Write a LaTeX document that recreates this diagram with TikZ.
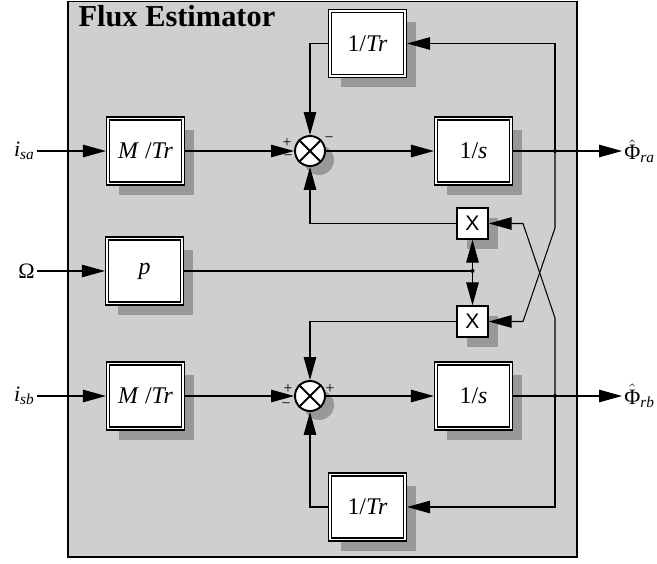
\documentclass[tikz,border=0pt]{standalone}
\usepackage{fontspec}
\setmainfont{Liberation Serif}
\newfontfamily\xfont{Liberation Sans}
\usepackage{tikz}
\usetikzlibrary{arrows.meta, positioning, shadows}

\definecolor{panelgray}{RGB}{207,207,207}
\definecolor{shadowgray}{RGB}{152,152,152}

\begin{document}
\begin{tikzpicture}[
    >={Triangle[length=0.46cm, width=0.25cm]},
    line width=0.6pt,
    block/.style={draw, double, double distance=0.8pt, line width=0.8pt, fill=white,
        minimum width=1.5cm, minimum height=1.3cm, outer sep=1.2pt,
        font=\fontsize{13.6}{15}\selectfont,
        drop shadow={shadow xshift=0.22cm, shadow yshift=-0.22cm, fill=shadowgray, opacity=1}},
    mult/.style={draw, line width=0.8pt, fill=white, minimum size=0.62cm, inner sep=0pt,
        font=\xfont\fontsize{12}{14}\selectfont,
        drop shadow={shadow xshift=0.2cm, shadow yshift=-0.2cm, fill=shadowgray, opacity=1}},
    sumnode/.style={circle, draw, line width=1.1pt, fill=white, minimum size=0.6cm, inner sep=0pt,
        drop shadow={shadow xshift=0.18cm, shadow yshift=-0.18cm, fill=shadowgray, opacity=1}},
    sgn/.style={inner sep=0pt, font=\fontsize{9}{10}\selectfont},
    io/.style={inner sep=1pt, font=\fontsize{12.5}{14}\selectfont},
]
    \useasboundingbox (0, 0) rectangle (13.14, -11.26);
    \draw[fill=panelgray, line width=1.1pt] (1.36, -0.03) rectangle (11.54, -11.14);
    \node[anchor=base west, inner sep=0pt, font=\fontsize{17.3}{20}\selectfont\bfseries] (title) at (1.56, -0.54) {Flux Estimator};

    % gain and integrator blocks
    \node[block] (mtra) at (2.91, -3.02) {\textit{M} /\textit{Tr}};
    \node[block] (pgain) at (2.89, -5.42) {\textit{p}};
    \node[block] (mtrb) at (2.91, -7.92) {\textit{M} /\textit{Tr}};
    \node[block] (tra) at (7.35, -0.87) {1/\textit{Tr}};
    \node[block] (trb) at (7.35, -10.14) {1/\textit{Tr}};
    \node[block] (inta) at (9.47, -3.02) {1/\textit{s}};
    \node[block] (intb) at (9.47, -7.92) {1/\textit{s}};

    % summing points
    \node[sumnode] (suma) at (6.2, -3.02) {};
    \node[sumnode] (sumb) at (6.2, -7.92) {};
    \draw[line width=1.1pt] (suma.north west) -- (suma.south east) (suma.north east) -- (suma.south west);
    \draw[line width=1.1pt] (sumb.north west) -- (sumb.south east) (sumb.north east) -- (sumb.south west);
    \node[sgn] (sa1) at (5.74, -2.86) {+};
    \node[sgn] (sa2) at (5.76, -3.16) {−};
    \node[sgn] (sa3) at (6.58, -2.80) {−};
    \node[sgn] (sb1) at (5.76, -7.78) {+};
    \node[sgn] (sb2) at (5.72, -8.12) {−};
    \node[sgn] (sb3) at (6.60, -7.78) {+};

    % multipliers
    \node[mult] (xa) at (9.45, -4.47) {X};
    \node[mult] (xb) at (9.45, -6.43) {X};

    % inputs and outputs
    \node[io, anchor=east] (isa) at (0.74, -3.02) {\textit{i}\textsubscript{\textit{sa}}};
    \node[io, anchor=east] (omega) at (0.74, -5.42) {Ω};
    \node[io, anchor=east] (isb) at (0.74, -7.92) {\textit{i}\textsubscript{\textit{sb}}};
    \node[io, anchor=west] (phira) at (12.44, -3.02) {$\hat{\mbox{Φ}}$\textsubscript{\textit{ra}}};
    \node[io, anchor=west] (phirb) at (12.44, -7.92) {$\hat{\mbox{Φ}}$\textsubscript{\textit{rb}}};

    \coordinate (junc) at (xa |- pgain);
    \coordinate (tapa) at (11.1, -3.02);
    \coordinate (tapb) at (11.1, -7.92);
    \coordinate (benda) at (11.1, -4.56);
    \coordinate (bendb) at (11.1, -6.36);
    \coordinate (kneea) at (10.46, -4.47);
    \coordinate (kneeb) at (10.46, -6.43);

    \draw[->] (isa.east) -- (mtra);
    \draw[->] (omega.east) -- (pgain);
    \draw[->] (isb.east) -- (mtrb);
    \draw[->] (mtra) -- (suma);
    \draw[->] (mtrb) -- (sumb);
    \draw[->] (suma) -- (inta);
    \draw[->] (sumb) -- (intb);
    \draw[->] (inta) -- (phira.west);
    \draw[->] (intb) -- (phirb.west);

    % feedback paths
    \draw[->] (tapa) |- (tra);
    \draw[->] (tapb) |- (trb);
    \draw[->] (tra) -| (suma);
    \draw[->] (trb) -| (sumb);
    \draw[->] (xa) -| (suma);
    \draw[->] (xb) -| (sumb);
    \draw (pgain) -- (junc);
    \draw[->] (junc) -- (xa);
    \draw[->] (junc) -- (xb);
    \draw[->] (tapa) -- (benda) -- (kneeb) -- (xb);
    \draw[->] (tapb) -- (bendb) -- (kneea) -- (xa);
    \fill (tapa) circle (0.04);
    \fill (tapb) circle (0.04);
    \fill (junc) circle (0.04);
\end{tikzpicture}
\end{document}
